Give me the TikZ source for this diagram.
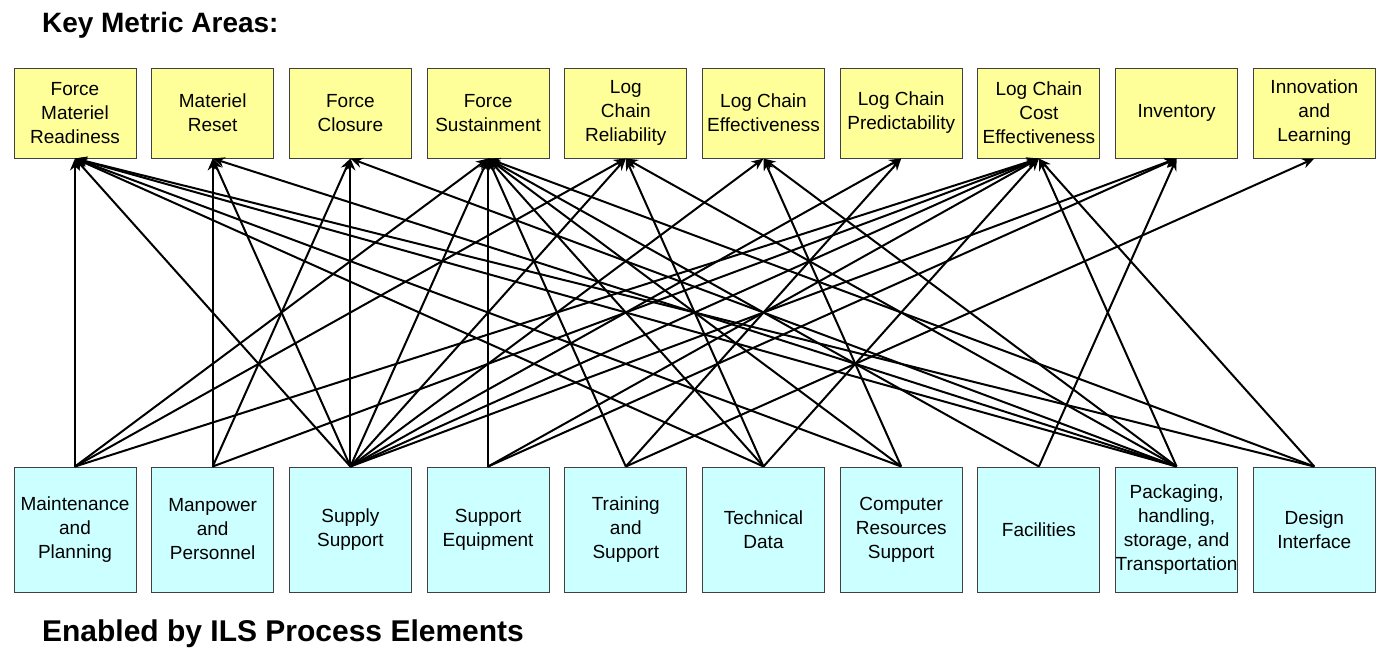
\documentclass[tikz,border=0pt]{standalone}
\usepackage{fontspec}
\setmainfont{Liberation Sans}
\usetikzlibrary{arrows.meta}
\definecolor{lightyellow}{HTML}{FFFF99}
\definecolor{lightcyan}{HTML}{CCFFFF}

\begin{document}
\begin{tikzpicture}[x=0.5pt, y=-0.5pt,
    metric/.style={draw=black!75, line width=0.5pt, fill=lightyellow, minimum width=61pt,
      minimum height=45pt, inner sep=0pt, align=center, font=\fontsize{9.5}{12}\selectfont},
    element/.style={metric, fill=lightcyan, minimum height=62.5pt},
    link/.style={-{Stealth[length=6pt,width=5pt]}, line width=1pt}]
    \useasboundingbox (0,0) rectangle (1382,649);
    \node[anchor=west, font=\fontsize{14}{16}\selectfont\bfseries] (title) at (35,25) {Key Metric Areas:};
    \foreach \i/\txt in {1/{Force\\Materiel\\Readiness}, 2/{Materiel\\Reset}, 3/{Force\\Closure},
        4/{Force\\Sustainment}, 5/{Log\\Chain\\Reliability}, 6/{Log Chain\\Effectiveness},
        7/{Log Chain\\Predictability}, 8/{Log Chain\\Cost\\Effectiveness}, 9/{Inventory},
        10/{Innovation\\and\\Learning}}
      \node[metric] (m\i) at ({75+137.7*(\i-1)},113) {\txt};
    \foreach \i/\txt in {1/{Maintenance\\and\\Planning}, 2/{Manpower\\and\\Personnel},
        3/{Supply\\Support}, 4/{Support\\Equipment}, 5/{Training\\and\\Support},
        6/{Technical\\Data}, 7/{Computer\\Resources\\Support}, 8/{Facilities},
        9/{Packaging,\\handling,\\storage, and\\Transportation}, 10/{Design\\Interface}}
      \node[element] (e\i) at ({75+137.7*(\i-1)},529.5) {\txt};
    \node[anchor=west, font=\fontsize{15}{17}\selectfont\bfseries] (caption) at (35,634) {Enabled by ILS Process Elements};
    % element -> metric area
    \foreach \s/\t in {1/1, 1/4, 1/5, 1/8,
        2/2, 2/3, 2/8,
        3/1, 3/2, 3/3, 3/4, 3/5, 3/6, 3/7, 3/8, 3/9,
        4/4, 4/8, 4/9,
        5/4, 5/7, 5/10,
        6/1, 6/4, 6/5, 6/8,
        7/1, 7/4, 7/6,
        8/4, 8/9,
        9/1, 9/2, 9/3, 9/5, 9/6, 9/8,
        10/1, 10/4, 10/8}
      \draw[link] (e\s.north) -- (m\t.south);
\end{tikzpicture}
\end{document}
